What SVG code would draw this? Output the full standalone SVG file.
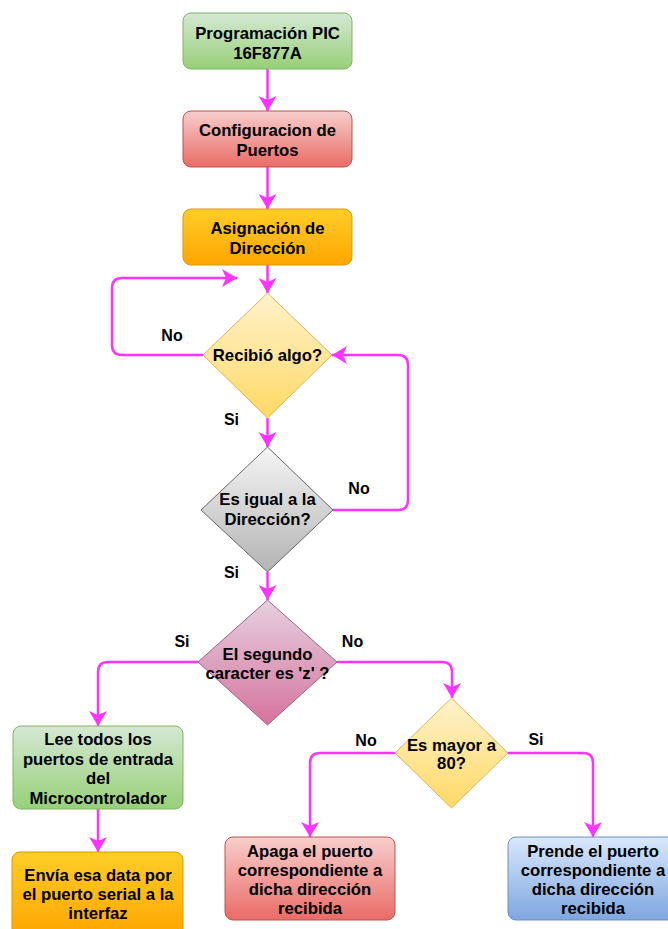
<svg xmlns="http://www.w3.org/2000/svg" width="668" height="929" viewBox="0 0 668 929">
  <defs>
    <linearGradient id="gGreen" x1="0" y1="0" x2="0" y2="1"><stop offset="0" stop-color="#d5e8d4"/><stop offset="1" stop-color="#97d077"/></linearGradient>
    <linearGradient id="gRed" x1="0" y1="0" x2="0" y2="1"><stop offset="0" stop-color="#f8cecc"/><stop offset="1" stop-color="#ea6b66"/></linearGradient>
    <linearGradient id="gOrange" x1="0" y1="0" x2="0" y2="1"><stop offset="0" stop-color="#ffcd28"/><stop offset="1" stop-color="#ffa500"/></linearGradient>
    <linearGradient id="gYellow" x1="0" y1="0" x2="0" y2="1"><stop offset="0" stop-color="#fff2cc"/><stop offset="1" stop-color="#ffd966"/></linearGradient>
    <linearGradient id="gGray" x1="0" y1="0" x2="0" y2="1"><stop offset="0" stop-color="#f5f5f5"/><stop offset="1" stop-color="#b3b3b3"/></linearGradient>
    <linearGradient id="gPink" x1="0" y1="0" x2="0" y2="1"><stop offset="0" stop-color="#e6d0de"/><stop offset="1" stop-color="#d5739d"/></linearGradient>
    <linearGradient id="gBlue" x1="0" y1="0" x2="0" y2="1"><stop offset="0" stop-color="#dae8fc"/><stop offset="1" stop-color="#7ea6e0"/></linearGradient>
    <marker id="arrow" viewBox="0 0 16 18" refX="15" refY="9" markerWidth="16" markerHeight="18" markerUnits="userSpaceOnUse" orient="auto">
      <path d="M15,9 L0,0 L4,9 L0,18 Z" fill="#ff33ff"/>
    </marker>
  </defs>
  <style>
    .lbl { font-family: "Liberation Sans", Arial, sans-serif; font-weight: bold; font-size: 16.7px; fill: #000; text-anchor: middle; }
    .elbl { font-family: "Liberation Sans", Arial, sans-serif; font-weight: bold; font-size: 16px; fill: #000; text-anchor: middle; }
    .edge { fill: none; stroke: #ff33ff; stroke-width: 2.5; stroke-linejoin: round; marker-end: url(#arrow); }
    .green { fill: url(#gGreen); stroke: #82b366; }
    .red { fill: url(#gRed); stroke: #b85450; }
    .orange { fill: url(#gOrange); stroke: #d79b00; }
    .yellow { fill: url(#gYellow); stroke: #d6b656; }
    .gray { fill: url(#gGray); stroke: #666666; }
    .pink { fill: url(#gPink); stroke: #996185; }
    .blue { fill: url(#gBlue); stroke: #6c8ebf; }
  </style>

  <rect width="668" height="929" fill="#ffffff"/>

  <!-- connectors -->
  <g id="connectors">
    <path class="edge" d="M267.5,69 V111"/>
    <path class="edge" d="M267.5,167 V209"/>
    <path class="edge" d="M267.5,265 V293"/>
    <path class="edge" d="M203,355 H122 Q112,355 112,345 V288 Q112,278 122,278 H237"/>
    <path class="edge" d="M267.5,418 V447"/>
    <path class="edge" d="M333,510 H398 Q408,510 408,500 V365 Q408,355 398,355 H332"/>
    <path class="edge" d="M267.5,572 V600"/>
    <path class="edge" d="M198,662 H108 Q98,662 98,672 V726"/>
    <path class="edge" d="M337,662 H442 Q452,662 452,672 V698"/>
    <path class="edge" d="M98,809 V852"/>
    <path class="edge" d="M395,753 H320 Q310,753 310,763 V837"/>
    <path class="edge" d="M508,753 H583 Q593,753 593,763 V837"/>
    <text class="elbl" x="172" y="341">No</text>
    <text class="elbl" x="231.5" y="425">Si</text>
    <text class="elbl" x="359" y="494">No</text>
    <text class="elbl" x="231.5" y="578">Si</text>
    <text class="elbl" x="182" y="647">Si</text>
    <text class="elbl" x="352.5" y="647">No</text>
    <text class="elbl" x="366" y="746">No</text>
    <text class="elbl" x="536" y="745">Si</text>
  </g>

  <g id="n-programacion">
    <rect class="green" x="183" y="13" width="169" height="56" rx="8"/>
    <text class="lbl" x="267.5" y="39">Programación PIC</text>
    <text class="lbl" x="267.5" y="59">16F877A</text>
  </g>

  <g id="n-configuracion">
    <rect class="red" x="183" y="111" width="169" height="56" rx="8"/>
    <text class="lbl" x="267.5" y="136">Configuracion de</text>
    <text class="lbl" x="267.5" y="156">Puertos</text>
  </g>

  <g id="n-asignacion">
    <rect class="orange" x="183" y="209" width="169" height="56" rx="8"/>
    <text class="lbl" x="267.5" y="234">Asignación de</text>
    <text class="lbl" x="267.5" y="254">Dirección</text>
  </g>

  <g id="n-recibio">
    <path class="yellow" d="M267.5,293 L332,355 L267.5,418 L203,355 Z"/>
    <text class="lbl" x="267.5" y="361">Recibió algo?</text>
  </g>

  <g id="n-igual">
    <path class="gray" d="M267.5,447 L333,510 L267.5,572 L201,510 Z"/>
    <text class="lbl" x="267.5" y="505">Es igual a la</text>
    <text class="lbl" x="267.5" y="525">Dirección?</text>
  </g>

  <g id="n-segundo">
    <path class="pink" d="M267.5,600 L337,662 L267.5,725 L198,662 Z"/>
    <text class="lbl" x="267.5" y="660">El segundo</text>
    <text class="lbl" x="267.5" y="679">caracter es 'z' ?</text>
  </g>

  <g id="n-lee">
    <rect class="green" x="13" y="726" width="170" height="83" rx="8"/>
    <text class="lbl" x="98" y="745">Lee todos los</text>
    <text class="lbl" x="98" y="764.5">puertos de entrada</text>
    <text class="lbl" x="98" y="784">del</text>
    <text class="lbl" x="98" y="803.5">Microcontrolador</text>
  </g>

  <g id="n-mayor">
    <path class="yellow" d="M451.5,698 L508,753 L451.5,808 L395,753 Z"/>
    <text class="lbl" x="451.5" y="751">Es mayor a</text>
    <text class="lbl" x="451.5" y="769">80?</text>
  </g>

  <g id="n-envia">
    <rect class="orange" x="12" y="852" width="171" height="85" rx="8"/>
    <text class="lbl" x="98" y="881">Envía esa data por</text>
    <text class="lbl" x="98" y="900">el puerto serial a la</text>
    <text class="lbl" x="98" y="919">interfaz</text>
  </g>

  <g id="n-apaga">
    <rect class="red" x="225" y="837" width="170" height="83" rx="8"/>
    <text class="lbl" x="310" y="857">Apaga el puerto</text>
    <text class="lbl" x="310" y="876">correspondiente a</text>
    <text class="lbl" x="310" y="895">dicha dirección</text>
    <text class="lbl" x="310" y="914">recibida</text>
  </g>

  <g id="n-prende">
    <rect class="blue" x="508" y="837" width="170" height="83" rx="8"/>
    <text class="lbl" x="593" y="857">Prende el puerto</text>
    <text class="lbl" x="593" y="876">correspondiente a</text>
    <text class="lbl" x="593" y="895">dicha dirección</text>
    <text class="lbl" x="593" y="914">recibida</text>
  </g>
</svg>
